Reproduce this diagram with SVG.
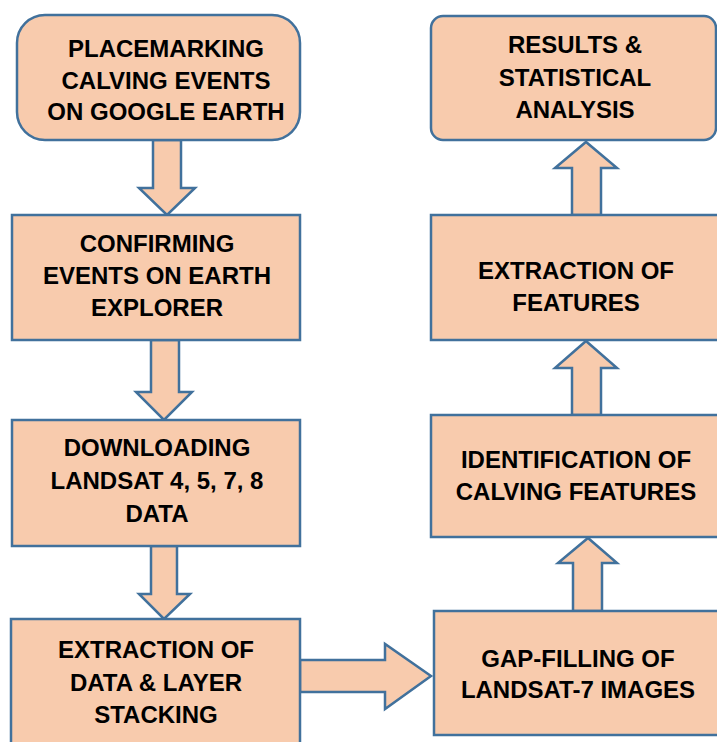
<svg xmlns="http://www.w3.org/2000/svg" width="717" height="742" viewBox="0 0 717 742">
<style>
.box{fill:#F8CBAD;stroke:#41719C;stroke-width:2.5}
.arr{fill:#F8CBAD;stroke:#41719C;stroke-width:2.5;stroke-linejoin:miter}
text{font-family:"Liberation Sans",Arial,sans-serif;font-weight:bold;font-size:24px;fill:#000;text-anchor:middle}
</style>
<rect width="717" height="742" fill="#fff"/>
<g id="connectors">
<polygon class="arr" points="153,140 181,140 181,188 195,188 167,215 139,188 153,188"/>
<polygon class="arr" points="151,340 179,340 179,392 192,392 164,420 136,392 151,392"/>
<polygon class="arr" points="151,546 177,546 177,594 190,594 164,619 139,594 151,594"/>
<polygon class="arr" points="300,660 385,660 385,644 431,676 385,709 385,692 300,692"/>
<polygon class="arr" points="573,611 602,611 602,563 617,563 588,538 558,563 573,563"/>
<polygon class="arr" points="572,415 601,415 601,368 617,368 586,341 555,368 572,368"/>
<polygon class="arr" points="572,215 601,215 601,168 617,168 586,142 555,168 572,168"/>
</g>
<g id="n1"><rect class="box" x="17" y="15" width="283" height="125" rx="28"/>
<text x="166" y="57">PLACEMARKING</text><text x="166" y="89">CALVING EVENTS</text><text x="166" y="120">ON GOOGLE EARTH</text></g>
<g id="n2"><rect class="box" x="12" y="215" width="288" height="125"/>
<text x="157" y="252">CONFIRMING</text><text x="157" y="284">EVENTS ON EARTH</text><text x="157" y="316">EXPLORER</text></g>
<g id="n3"><rect class="box" x="12" y="420" width="288" height="126"/>
<text x="157" y="456">DOWNLOADING</text><text x="157" y="489">LANDSAT 4, 5, 7, 8</text><text x="157" y="522">DATA</text></g>
<g id="n4"><rect class="box" x="11" y="619" width="289" height="140"/>
<text x="156" y="658">EXTRACTION OF</text><text x="156" y="691">DATA &amp; LAYER</text><text x="156" y="723">STACKING</text></g>
<g id="n5"><rect class="box" x="434" y="611" width="300" height="124"/>
<text x="578" y="667">GAP-FILLING OF</text><text x="578" y="698">LANDSAT-7 IMAGES</text></g>
<g id="n6"><rect class="box" x="431" y="415" width="300" height="122"/>
<text x="576" y="468">IDENTIFICATION OF</text><text x="576" y="500">CALVING FEATURES</text></g>
<g id="n7"><rect class="box" x="431" y="215" width="300" height="125"/>
<text x="576" y="279">EXTRACTION OF</text><text x="576" y="311">FEATURES</text></g>
<g id="n8"><rect class="box" x="431" y="16" width="285" height="124" rx="12"/>
<text x="575" y="53">RESULTS &amp;</text><text x="575" y="86">STATISTICAL</text><text x="575" y="118">ANALYSIS</text></g>
</svg>
